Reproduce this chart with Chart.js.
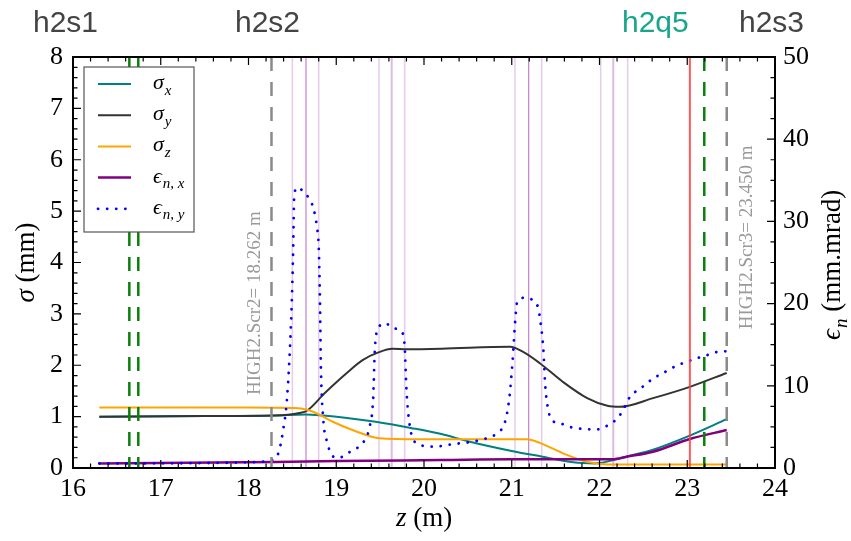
<!DOCTYPE html>
<html>
<head>
<meta charset="utf-8">
<title>Beam envelope along z</title>
<script src="https://cdn.jsdelivr.net/npm/chart.js@4.4.0/dist/chart.umd.min.js"></script>
<style>
  body { margin: 0; background: #fff; }
  #wrap { width: 851px; height: 541px; }
</style>
</head>
<body>
<div id="wrap"><canvas id="chart" width="851" height="541"></canvas></div>
<script>
// beam sizes (mm) and emittances (mm.mrad) along z (m)
const zSigmaX = [16.3, 17.5, 18.3, 18.65, 18.85, 19.1, 19.45, 19.85, 20.2, 20.5, 21.0, 21.35, 21.7, 21.95, 22.15, 22.3, 22.6, 23.0, 23.45];
const sigmaX  = [1.00, 1.01, 1.02, 1.04, 1.02, 0.98, 0.90, 0.78, 0.66, 0.52, 0.33, 0.22, 0.11, 0.09, 0.15, 0.22, 0.35, 0.61, 0.95];

const zSigmaY = [16.3, 17.5, 18.3, 18.58, 18.67, 18.87, 19.12, 19.3, 19.48, 19.64, 19.8, 20.2, 20.98, 21.13, 21.32, 21.58, 21.86, 22.09, 22.23, 22.61, 23.03, 23.45];
const sigmaY  = [1.00, 1.01, 1.02, 1.07, 1.12, 1.46, 1.85, 2.10, 2.25, 2.32, 2.31, 2.32, 2.36, 2.26, 2.04, 1.68, 1.36, 1.21, 1.19, 1.36, 1.58, 1.85];

const zSigmaZ = [16.3, 18.0, 18.5, 18.6, 18.73, 18.96, 19.23, 19.49, 19.95, 21.17, 21.32, 21.58, 21.86, 22.09, 23.45];
const sigmaZ  = [1.18, 1.18, 1.17, 1.16, 1.10, 0.90, 0.71, 0.58, 0.56, 0.56, 0.49, 0.29, 0.12, 0.07, 0.07];

const zEmitX = [16.3, 18.3, 19.0, 20.2, 21.0, 22.15, 22.31, 22.61, 23.03, 23.45];
const emitX  = [0.55, 0.73, 0.85, 0.97, 1.06, 1.06, 1.37, 1.98, 3.53, 4.62];

const zEmitY = [16.3, 17.5, 18.0, 18.27, 18.34, 18.39, 18.44, 18.48, 18.50, 18.51, 18.52, 18.55, 18.63, 18.70, 18.74, 18.78, 18.80, 18.815, 18.825, 18.85, 18.90, 18.95, 19.01,
                19.19, 19.30, 19.38, 19.42, 19.44, 19.47, 19.56, 19.65, 19.75, 19.78, 19.80, 19.84, 19.92, 20.10, 20.33, 20.64, 20.84, 20.92, 20.97,
                21.01, 21.04, 21.06, 21.14, 21.24, 21.30, 21.33, 21.36, 21.38, 21.41, 21.46, 21.56, 21.66, 21.77, 21.87, 21.99, 22.08, 22.18, 22.25, 22.35, 22.44,
                22.52, 22.61, 22.70, 22.80, 22.89, 22.99, 23.09, 23.19, 23.30, 23.40, 23.45];
const emitY  = [0.55, 0.6, 0.7, 0.97, 1.8, 4.3, 8.6, 16.4, 22.5, 27.1, 32.8, 34.1, 33.6, 32.6, 31.6, 29.3, 26.9, 20.0, 12.3, 6.2, 3.0, 1.6, 1.2,
                2.2, 3.0, 5.0, 8.3, 14.4, 16.8, 17.6, 17.0, 16.5, 14.7, 9.5, 5.0, 3.0, 2.6, 2.9, 3.4, 4.3, 5.5, 8.3,
                13.1, 18.0, 20.1, 20.7, 20.4, 19.5, 17.6, 14.4, 10.3, 7.4, 5.8, 5.4, 5.0, 4.8, 4.7, 4.7, 5.1, 5.8, 6.7, 8.7, 9.5,
                10.1, 10.9, 11.4, 12.0, 12.5, 12.9, 13.3, 13.6, 14.0, 14.2, 14.2];

// beamline elements (z in m)
const quadCentres = [18.655, 19.632, 21.193, 22.157];
const quadEdges = [18.50, 18.80, 19.487, 19.78, 21.037, 21.341, 22.014, 22.321];
const greenMarks = [16.642, 16.744, 23.194];
const screens = [18.262, 23.450];
const screenNames = ['HIGH2.Scr2= 18.262 m', 'HIGH2.Scr3= 23.450 m'];
const redMark = [23.03];

const topLabels = ['h2s1', 'h2s2', 'h2q5', 'h2s3'];
const topLabelX = [33, 235, 622, 739];
const topLabelColor = ['#444444', '#444444', '#17a68b', '#444444'];

const legendSym = ['σ', 'σ', 'σ', 'ϵ', 'ϵ'];
const legendSub = ['x', 'y', 'z', 'n, x', 'n, y'];

const serif = "Liberation Serif, DejaVu Serif, serif";
Chart.defaults.font.family = serif;

function pts(xs, ys) {
    return xs.map((x, i) => ({ x: x, y: ys[i] }));
}

function vline(ctx, area, x, color, width, dash) {
    ctx.save();
    ctx.strokeStyle = color;
    ctx.lineWidth = width;
    ctx.setLineDash(dash || []);
    ctx.beginPath();
    ctx.moveTo(x, area.top);
    ctx.lineTo(x, area.bottom);
    ctx.stroke();
    ctx.restore();
}

function inwardTicks(ctx, scale, from, to, step, every, side, area) {
    const n = Math.round((to - from) / step);
    ctx.save();
    ctx.strokeStyle = '#000';
    ctx.lineWidth = 1.2;
    ctx.beginPath();
    for (let i = 0; i <= n; i++) {
        const p = scale.getPixelForValue(from + i * step);
        const len = i % every === 0 ? 8 : 4.5;
        if (side === 'bottom') { ctx.moveTo(p, area.bottom); ctx.lineTo(p, area.bottom - len); }
        if (side === 'top') { ctx.moveTo(p, area.top); ctx.lineTo(p, area.top + len); }
        if (side === 'left') { ctx.moveTo(area.left, p); ctx.lineTo(area.left + len, p); }
        if (side === 'right') { ctx.moveTo(area.right, p); ctx.lineTo(area.right - len, p); }
    }
    ctx.stroke();
    ctx.restore();
}

// draws "sym" in italic with an italic subscript, returns the end x
function mathText(ctx, sym, sub, x, y, size) {
    ctx.font = 'italic ' + size + 'px ' + serif;
    ctx.fillText(sym, x, y);
    x += ctx.measureText(sym).width + 1;
    ctx.font = 'italic ' + Math.round(size * 0.7) + 'px ' + serif;
    ctx.fillText(sub, x, y + size * 0.25);
    return x + ctx.measureText(sub).width;
}

const decor = {
    id: 'decor',
    beforeDatasetsDraw(chart) {
        const ctx = chart.ctx;
        const area = chart.chartArea;
        const xs = chart.scales.x;
        quadEdges.forEach(z => vline(ctx, area, xs.getPixelForValue(z), 'rgba(200,140,210,0.45)', 1.5));
        quadCentres.forEach((z, i) => vline(ctx, area, xs.getPixelForValue(z),
            i % 2 === 0 ? 'rgba(160,60,180,0.65)' : 'rgba(190,130,205,0.55)', i % 2 === 0 ? 1.2 : 2));
    },
    afterDatasetsDraw(chart) {
        const ctx = chart.ctx;
        const area = chart.chartArea;
        const xs = chart.scales.x;
        const ys = chart.scales.y;
        const y2 = chart.scales.y2;

        redMark.forEach(z => vline(ctx, area, xs.getPixelForValue(z), 'rgba(255,60,60,0.85)', 2));
        greenMarks.forEach(z => vline(ctx, area, xs.getPixelForValue(z), '#0a800a', 2.5, [14, 11]));
        screens.forEach(z => vline(ctx, area, xs.getPixelForValue(z), '#8a8a8a', 2.5, [14, 11]));

        // screen names, rotated
        ctx.save();
        ctx.fillStyle = '#9a9a9a';
        ctx.font = '19px ' + serif;
        ctx.textBaseline = 'middle';
        ctx.textAlign = 'left';
        const textAt = [[-16, 1.42], [20, 2.7]];
        screens.forEach((z, i) => {
            ctx.save();
            ctx.translate(xs.getPixelForValue(z) + textAt[i][0], ys.getPixelForValue(textAt[i][1]));
            ctx.rotate(-Math.PI / 2);
            ctx.fillText(screenNames[i], 0, 0);
            ctx.restore();
        });
        ctx.restore();

        // frame and inward ticks
        inwardTicks(ctx, xs, 16, 24, 0.2, 5, 'bottom', area);
        inwardTicks(ctx, xs, 16, 24, 0.2, 5, 'top', area);
        inwardTicks(ctx, ys, 0, 8, 0.2, 5, 'left', area);
        inwardTicks(ctx, y2, 0, 50, 2.5, 4, 'right', area);
        ctx.save();
        ctx.strokeStyle = '#000';
        ctx.lineWidth = 2;
        ctx.strokeRect(area.left, area.top, area.right - area.left, area.bottom - area.top);
        ctx.restore();

        // legend
        ctx.save();
        ctx.fillStyle = '#fff';
        ctx.strokeStyle = '#555';
        ctx.lineWidth = 1.2;
        ctx.fillRect(84, 67, 110, 165);
        ctx.strokeRect(84, 67, 110, 165);
        chart.data.datasets.forEach((ds, i) => {
            const y = 84 + i * 31.2;
            ctx.save();
            ctx.strokeStyle = ds.borderColor;
            ctx.lineWidth = ds.borderWidth;
            ctx.lineCap = ds.borderCapStyle || 'butt';
            ctx.setLineDash(ds.borderDash || []);
            ctx.beginPath();
            ctx.moveTo(98, y);
            ctx.lineTo(131, y);
            ctx.stroke();
            ctx.restore();
            ctx.fillStyle = '#000';
            ctx.textBaseline = 'alphabetic';
            mathText(ctx, legendSym[i], legendSub[i], 153, y + 5, 22);
        });
        ctx.restore();
    },
    afterDraw(chart) {
        const ctx = chart.ctx;
        const area = chart.chartArea;
        ctx.save();
        ctx.textBaseline = 'alphabetic';
        ctx.textAlign = 'left';
        ctx.font = "30px Liberation Sans, Arial, sans-serif";
        topLabels.forEach((t, i) => {
            ctx.fillStyle = topLabelColor[i];
            ctx.fillText(t, topLabelX[i], 32);
        });

        ctx.fillStyle = '#000';
        // x title
        ctx.font = 'italic 27px ' + serif;
        const wz = ctx.measureText('z').width;
        ctx.font = '27px ' + serif;
        const wm = ctx.measureText(' (m)').width;
        let x0 = (area.left + area.right) / 2 - (wz + wm) / 2;
        ctx.font = 'italic 27px ' + serif;
        ctx.fillText('z', x0, 526);
        ctx.font = '27px ' + serif;
        ctx.fillText(' (m)', x0 + wz, 526);

        // left title
        const midY = (area.top + area.bottom) / 2;
        ctx.save();
        ctx.translate(34, midY);
        ctx.rotate(-Math.PI / 2);
        ctx.font = 'italic 27px ' + serif;
        const ws = ctx.measureText('σ').width;
        ctx.font = '27px ' + serif;
        const wmm = ctx.measureText(' (mm)').width;
        let s0 = -(ws + wmm) / 2;
        ctx.font = 'italic 27px ' + serif;
        ctx.fillText('σ', s0, 0);
        ctx.font = '27px ' + serif;
        ctx.fillText(' (mm)', s0 + ws, 0);
        ctx.restore();

        // right title
        ctx.save();
        ctx.translate(840, midY);
        ctx.rotate(-Math.PI / 2);
        ctx.font = '27px ' + serif;
        const wr = ctx.measureText(' (mm.mrad)').width;
        const start = -(wr + 26) / 2;
        const end = mathText(ctx, 'ϵ', 'n', start, 0, 27);
        ctx.font = '27px ' + serif;
        ctx.fillText(' (mm.mrad)', end, 0);
        ctx.restore();
        ctx.restore();
    }
};

const tickFont = { family: serif, size: 26 };

new Chart(document.getElementById('chart'), {
    type: 'line',
    data: {
        datasets: [
            { label: 'σx', data: pts(zSigmaX, sigmaX), yAxisID: 'y', borderColor: '#008080', borderWidth: 2, order: 5 },
            { label: 'σy', data: pts(zSigmaY, sigmaY), yAxisID: 'y', borderColor: '#333333', borderWidth: 2, order: 4 },
            { label: 'σz', data: pts(zSigmaZ, sigmaZ), yAxisID: 'y', borderColor: '#ffa500', borderWidth: 2, order: 3 },
            { label: 'ϵn,x', data: pts(zEmitX, emitX), yAxisID: 'y2', borderColor: '#800080', borderWidth: 2.5, order: 2 },
            { label: 'ϵn,y', data: pts(zEmitY, emitY), yAxisID: 'y2', borderColor: '#0000ff', borderWidth: 2.8,
              borderDash: [0.1, 9], borderCapStyle: 'round', order: 1 }
        ]
    },
    options: {
        responsive: false,
        animation: false,
        elements: {
            point: { radius: 0 },
            line: { cubicInterpolationMode: 'monotone', fill: false }
        },
        layout: { padding: { top: 57 } },
        plugins: { legend: { display: false }, tooltip: { enabled: false } },
        scales: {
            x: {
                type: 'linear', min: 16, max: 24, position: 'bottom',
                ticks: { stepSize: 1, font: tickFont, color: '#000', padding: 6, maxRotation: 0 },
                grid: { display: false, drawTicks: false },
                border: { display: false },
                afterFit(s) { s.height = 73; }
            },
            y: {
                min: 0, max: 8, position: 'left',
                ticks: { stepSize: 1, font: tickFont, color: '#000', padding: 10 },
                grid: { display: false, drawTicks: false },
                border: { display: false },
                afterFit(s) { s.width = 73; }
            },
            y2: {
                min: 0, max: 50, position: 'right',
                ticks: { stepSize: 10, font: tickFont, color: '#000', padding: 8 },
                grid: { display: false, drawTicks: false },
                border: { display: false },
                afterFit(s) { s.width = 76; }
            }
        }
    },
    plugins: [decor]
});
</script>
</body>
</html>
